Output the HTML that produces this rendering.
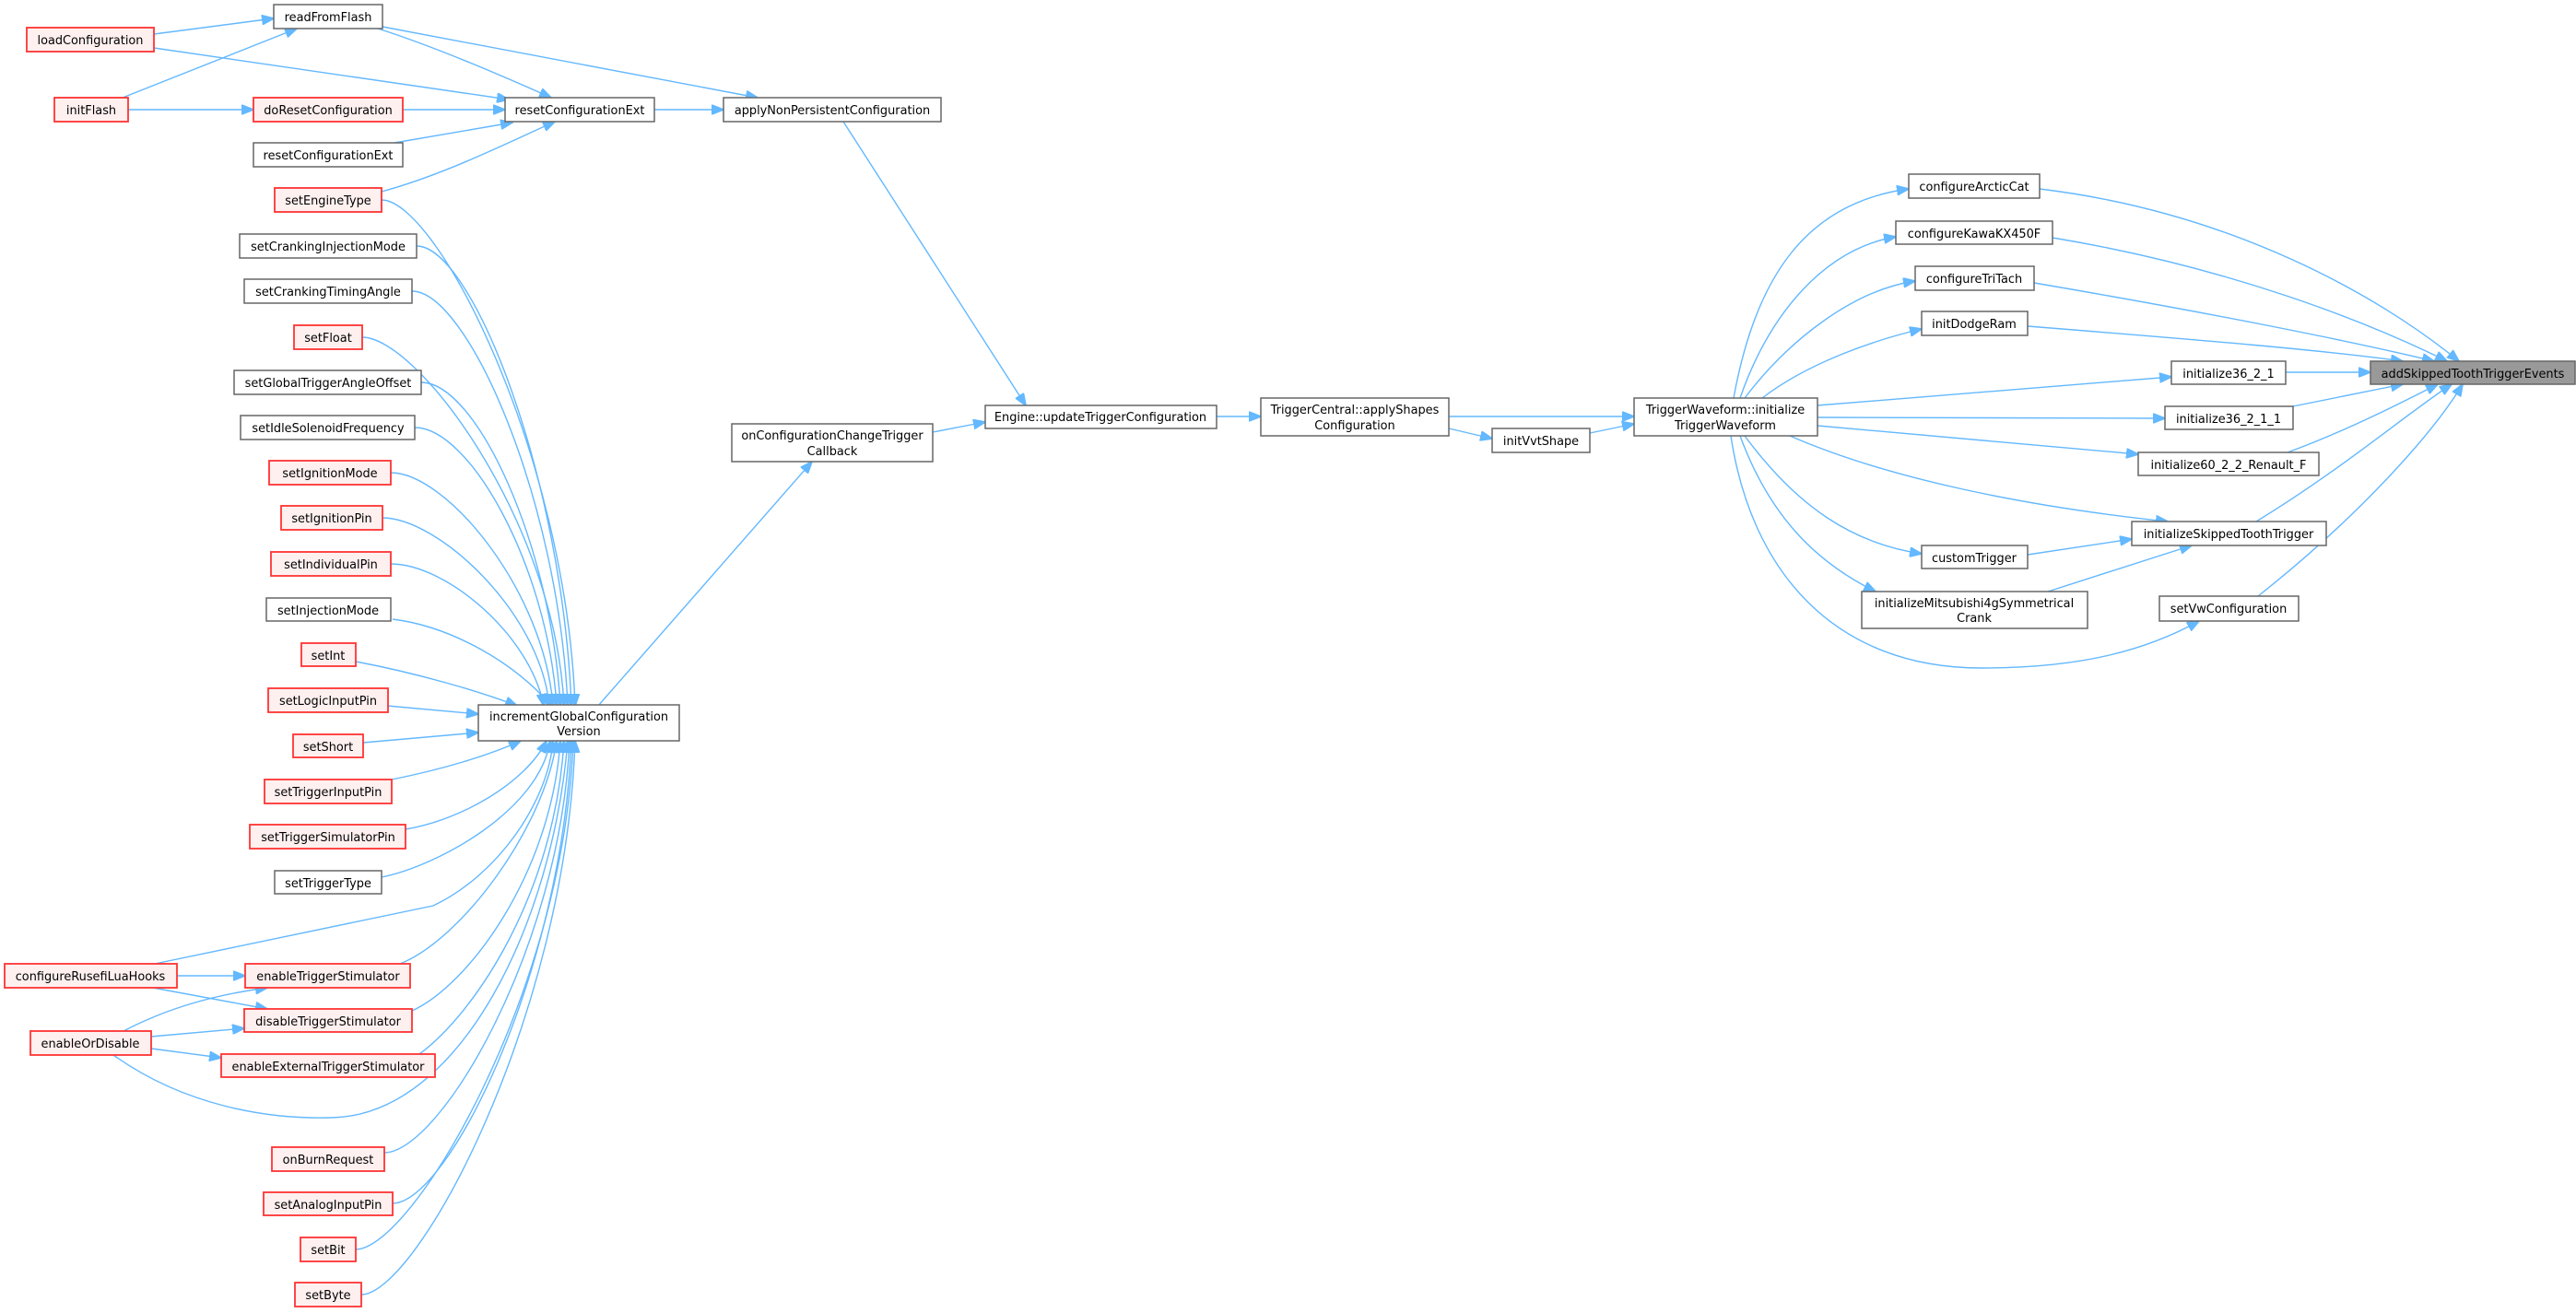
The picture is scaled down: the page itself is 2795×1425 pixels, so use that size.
<!DOCTYPE html>
<html><head><meta charset="utf-8"><style>
html,body{margin:0;padding:0;background:#fff;width:2795px;height:1425px;overflow:hidden}
svg{display:block}
text{font-family:"DejaVu Sans","Liberation Sans",sans-serif;font-size:12.9px;fill:#000;text-anchor:middle}
.n{fill:#fff;stroke:#666;stroke-width:1.5}
.r{fill:#fff0f0;stroke:#ff3333;stroke-width:1.8}
.g{fill:#999;stroke:#666;stroke-width:1.5}
path.e{fill:none;stroke:#63b8ff;stroke-width:1.4;marker-end:url(#a)}
</style></head><body>
<svg width="2795" height="1425" viewBox="0 0 2795 1425" xmlns="http://www.w3.org/2000/svg">
<defs><marker id="a" markerUnits="userSpaceOnUse" markerWidth="14" markerHeight="11" refX="13" refY="5.5" orient="auto"><path d="M0,0 L14,5.5 L0,11 z" fill="#63b8ff" stroke="#63b8ff"/></marker></defs>

<path class="e" d="M167,37 L297,20"/>
<path class="e" d="M167,52 L552,108"/>
<path class="e" d="M133,106 L322,31"/>
<path class="e" d="M139,119 L275,119"/>
<path class="e" d="M437,119 L548,119"/>
<path class="e" d="M410,31 C470,50 540,80 598,106"/>
<path class="e" d="M415,29 L822,106"/>
<path class="e" d="M428,155 L556,133"/>
<path class="e" d="M414,208 C480,190 540,160 602,132"/>
<path class="e" d="M710,119 L785,119"/>
<path class="e" d="M915,132 L1113,440"/>
<path class="e" d="M1012,469 L1069,458"/>
<path class="e" d="M649,766 L881,501"/>
<path class="e" d="M1320,452 L1368,452"/>
<path class="e" d="M1572,452 L1773,452"/>
<path class="e" d="M1572,465 L1619,476"/>
<path class="e" d="M1725,470 L1773,460"/>

<path class="e" d="M414,217 C474,217 614,492 624,766"/>
<path class="e" d="M452,267 C512,267 610,517 620,766"/>
<path class="e" d="M447,316 C507,316 606,541 616,766"/>
<path class="e" d="M393,366 C453,366 602,566 612,766"/>
<path class="e" d="M457,415 C517,415 598,591 608,766"/>
<path class="e" d="M450,464 C510,464 594,615 604,766"/>
<path class="e" d="M424,513 C484,513 590,640 600,766"/>
<path class="e" d="M415,562 C475,562 586,664 596,766"/>
<path class="e" d="M424,612 C484,612 575,689 590,766"/>
<path class="e" d="M426,672 C490,680 560,720 598,766"/>
<path class="e" d="M386,718 C450,730 520,750 561,766"/>
<path class="e" d="M420,766 L519,775"/>
<path class="e" d="M394,806 L519,795"/>
<path class="e" d="M425,846 C480,835 530,820 565,804"/>
<path class="e" d="M440,900 C500,890 570,850 593,804"/>
<path class="e" d="M414,952 C474,940 585,880 597,804"/>
<path class="e" d="M168,1046 L470,983 C540,950 595,870 600,804"/>
<path class="e" d="M434,1046 C500,1020 590,900 604,804"/>
<path class="e" d="M447,1097 C507,1070 598,950 608,804"/>
<path class="e" d="M455,1144 C515,1100 602,970 612,804"/>
<path class="e" d="M123,1145 C200,1200 290,1215 360,1213 C500,1210 600,1000 616,804"/>
<path class="e" d="M417,1251 C477,1251 608,1030 618,804"/>
<path class="e" d="M426,1306 C486,1306 610,1055 620,804"/>
<path class="e" d="M386,1356 C446,1356 612,1080 622,804"/>
<path class="e" d="M392,1405 C452,1405 614,1105 624,804"/>

<path class="e" d="M192,1059 L266,1059"/>
<path class="e" d="M166,1072 L290,1095"/>
<path class="e" d="M134,1119 C180,1095 230,1080 290,1072"/>
<path class="e" d="M164,1125 L265,1116"/>
<path class="e" d="M164,1138 L240,1148"/>

<path class="e" d="M1881,432 C1905,300 1960,220 2071,205"/>
<path class="e" d="M1888,432 C1920,340 1980,270 2057,257"/>
<path class="e" d="M1893,432 C1940,370 2010,315 2078,305"/>
<path class="e" d="M1912,432 C1960,395 2030,370 2085,357"/>
<path class="e" d="M1972,440 L2356,409"/>
<path class="e" d="M1972,453 L2349,454"/>
<path class="e" d="M1972,462 L2320,493"/>
<path class="e" d="M1942,473 C2050,520 2200,550 2352,566"/>
<path class="e" d="M1893,473 C1950,550 2010,590 2085,601"/>
<path class="e" d="M1888,473 C1920,560 1970,610 2035,642"/>
<path class="e" d="M1878,473 C1900,620 1990,725 2150,725 C2260,725 2330,705 2386,674"/>
<path class="e" d="M2200,602 L2313,585"/>
<path class="e" d="M2222,642 L2378,592"/>

<path class="e" d="M2213,205 C2420,230 2580,320 2668,392"/>
<path class="e" d="M2227,258 C2420,290 2570,350 2655,392"/>
<path class="e" d="M2207,307 C2400,340 2550,370 2641,392"/>
<path class="e" d="M2200,354 C2400,370 2520,380 2607,392"/>
<path class="e" d="M2480,404 L2572,404"/>
<path class="e" d="M2488,441 L2607,417"/>
<path class="e" d="M2482,491 C2540,470 2600,440 2645,417"/>
<path class="e" d="M2448,566 C2540,510 2610,450 2660,417"/>
<path class="e" d="M2450,647 C2560,560 2640,470 2672,417"/>

<rect class="n" x="297" y="5" width="118" height="26"/><text x="356" y="23">readFromFlash</text>
<rect class="r" x="29" y="30" width="138" height="26"/><text x="98" y="48">loadConfiguration</text>
<rect class="r" x="59" y="106" width="80" height="26"/><text x="99" y="124">initFlash</text>
<rect class="r" x="275" y="106" width="162" height="26"/><text x="356" y="124">doResetConfiguration</text>
<rect class="n" x="548" y="106" width="162" height="26"/><text x="629" y="124">resetConfigurationExt</text>
<rect class="n" x="785" y="106" width="236" height="26"/><text x="903" y="124">applyNonPersistentConfiguration</text>
<rect class="n" x="275" y="155" width="162" height="26"/><text x="356" y="173">resetConfigurationExt</text>
<rect class="r" x="298" y="204" width="116" height="26"/><text x="356" y="222">setEngineType</text>
<rect class="n" x="260" y="254" width="192" height="26"/><text x="356" y="272">setCrankingInjectionMode</text>
<rect class="n" x="265" y="303" width="182" height="26"/><text x="356" y="321">setCrankingTimingAngle</text>
<rect class="r" x="319" y="353" width="74" height="26"/><text x="356" y="371">setFloat</text>
<rect class="n" x="254" y="402" width="203" height="26"/><text x="356" y="420">setGlobalTriggerAngleOffset</text>
<rect class="n" x="261" y="451" width="189" height="26"/><text x="356" y="469">setIdleSolenoidFrequency</text>
<rect class="r" x="292" y="500" width="132" height="26"/><text x="358" y="518">setIgnitionMode</text>
<rect class="r" x="305" y="549" width="110" height="26"/><text x="360" y="567">setIgnitionPin</text>
<rect class="r" x="294" y="599" width="130" height="26"/><text x="359" y="617">setIndividualPin</text>
<rect class="n" x="289" y="649" width="135" height="25"/><text x="356" y="667">setInjectionMode</text>
<rect class="r" x="327" y="698" width="59" height="25"/><text x="356" y="716">setInt</text>
<rect class="r" x="291" y="747" width="130" height="26"/><text x="356" y="765">setLogicInputPin</text>
<rect class="r" x="318" y="797" width="76" height="25"/><text x="356" y="815">setShort</text>
<rect class="r" x="287" y="846" width="138" height="26"/><text x="356" y="864">setTriggerInputPin</text>
<rect class="r" x="271" y="895" width="169" height="26"/><text x="356" y="913">setTriggerSimulatorPin</text>
<rect class="n" x="298" y="945" width="116" height="25"/><text x="356" y="963">setTriggerType</text>
<rect class="r" x="5" y="1046" width="187" height="26"/><text x="98" y="1064">configureRusefiLuaHooks</text>
<rect class="r" x="266" y="1046" width="179" height="26"/><text x="356" y="1064">enableTriggerStimulator</text>
<rect class="r" x="265" y="1095" width="182" height="25"/><text x="356" y="1113">disableTriggerStimulator</text>
<rect class="r" x="33" y="1119" width="131" height="26"/><text x="98" y="1137">enableOrDisable</text>
<rect class="r" x="240" y="1144" width="232" height="25"/><text x="356" y="1162">enableExternalTriggerStimulator</text>
<rect class="r" x="295" y="1245" width="122" height="26"/><text x="356" y="1263">onBurnRequest</text>
<rect class="r" x="286" y="1294" width="140" height="25"/><text x="356" y="1312">setAnalogInputPin</text>
<rect class="r" x="326" y="1343" width="60" height="26"/><text x="356" y="1361">setBit</text>
<rect class="r" x="320" y="1392" width="72" height="26"/><text x="356" y="1410">setByte</text>
<rect class="n" x="519" y="765" width="218" height="39"/><text x="628" y="782">incrementGlobalConfiguration</text><text x="628" y="798">Version</text>
<rect class="n" x="794" y="460" width="218" height="41"/><text x="903" y="477">onConfigurationChangeTrigger</text><text x="903" y="494">Callback</text>
<rect class="n" x="1069" y="440" width="251" height="25"/><text x="1194" y="457">Engine::updateTriggerConfiguration</text>
<rect class="n" x="1368" y="432" width="204" height="41"/><text x="1470" y="449">TriggerCentral::applyShapes</text><text x="1470" y="466">Configuration</text>
<rect class="n" x="1619" y="465" width="106" height="26"/><text x="1672" y="483">initVvtShape</text>
<rect class="n" x="1773" y="432" width="199" height="41"/><text x="1872" y="449">TriggerWaveform::initialize</text><text x="1872" y="466">TriggerWaveform</text>
<rect class="n" x="2071" y="189" width="142" height="26"/><text x="2142" y="207">configureArcticCat</text>
<rect class="n" x="2057" y="240" width="170" height="25"/><text x="2142" y="258">configureKawaKX450F</text>
<rect class="n" x="2078" y="289" width="129" height="26"/><text x="2142" y="307">configureTriTach</text>
<rect class="n" x="2085" y="338" width="115" height="26"/><text x="2142" y="356">initDodgeRam</text>
<rect class="n" x="2356" y="392" width="124" height="25"/><text x="2418" y="410">initialize36_2_1</text>
<rect class="g" x="2572" y="392" width="222" height="25"/><text x="2683" y="410">addSkippedToothTriggerEvents</text>
<rect class="n" x="2349" y="441" width="139" height="25"/><text x="2418" y="459">initialize36_2_1_1</text>
<rect class="n" x="2320" y="491" width="196" height="25"/><text x="2418" y="509">initialize60_2_2_Renault_F</text>
<rect class="n" x="2313" y="566" width="211" height="26"/><text x="2418" y="584">initializeSkippedToothTrigger</text>
<rect class="n" x="2085" y="592" width="115" height="25"/><text x="2142" y="610">customTrigger</text>
<rect class="n" x="2020" y="642" width="245" height="40"/><text x="2142" y="659">initializeMitsubishi4gSymmetrical</text><text x="2142" y="675">Crank</text>
<rect class="n" x="2343" y="647" width="151" height="27"/><text x="2418" y="665">setVwConfiguration</text>
</svg>
</body></html>
